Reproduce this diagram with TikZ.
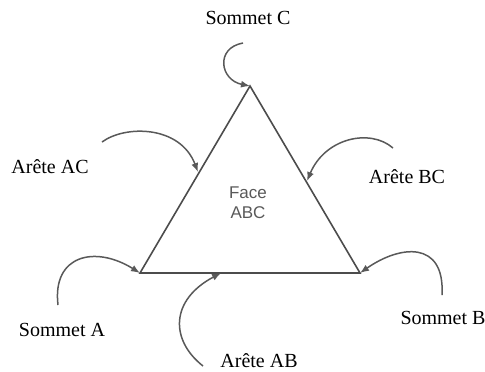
\documentclass[tikz,border=0pt]{standalone}
\usepackage{fontspec}
\setmainfont{Liberation Serif}
\newfontfamily\facefont{Liberation Sans}
\usetikzlibrary{arrows.meta}

\tikzset{
	edge/.style={draw=black!70, line width=0.8pt},
	pointer/.style={draw=black!65, line width=0.75pt, -{Latex[length=4.5pt,width=3.5pt]}},
	lbl/.style={font=\fontsize{10}{12}\selectfont},
	facelbl/.style={font=\facefont\fontsize{8.5}{10}\selectfont, text=black!65, align=center}
}

\begin{document}
\begin{tikzpicture}[x=0.5pt,y=-0.5pt]
	\useasboundingbox (0,0) rectangle (485,371);
	% sommets et points des aretes
	\coordinate (A) at (140,273);
	\coordinate (B) at (360,273);
	\coordinate (C) at (250,86);
	\coordinate (ab) at (221,273);
	\coordinate (ac) at (198,172);
	\coordinate (bc) at (307,181);
	% la face
	\draw[edge] (A) -- (B) -- (C) -- cycle;
	\node[facelbl] (face) at (248,203) {Face\\ABC};
	% etiquettes
	\node[lbl] (sC) at (248,18) {Sommet C};
	\node[lbl] (sA) at (62,330) {Sommet A};
	\node[lbl] (sB) at (443,318) {Sommet B};
	\node[lbl] (aAC) at (50,167) {Arête AC};
	\node[lbl] (aBC) at (407,177) {Arête BC};
	\node[lbl] (aAB) at (259,361) {Arête AB};
	% depart des fleches
	\coordinate (tC) at (243,43);
	\coordinate (tA) at (58,305);
	\coordinate (tB) at (442,295);
	\coordinate (tAC) at (102,142);
	\coordinate (tBC) at (393,148);
	\coordinate (tAB) at (203,366);
	% fleches
	\draw[pointer] (tC) .. controls (215,48) and (220,80) .. (C);
	\draw[pointer] (tA) .. controls (52,255) and (95,245) .. (A);
	\draw[pointer] (tB) .. controls (445,240) and (400,245) .. (B);
	\draw[pointer] (tAC) .. controls (125,125) and (180,125) .. (ac);
	\draw[pointer] (tBC) .. controls (370,128) and (325,138) .. (bc);
	\draw[pointer] (tAB) .. controls (170,340) and (170,300) .. (ab);
\end{tikzpicture}
\end{document}
